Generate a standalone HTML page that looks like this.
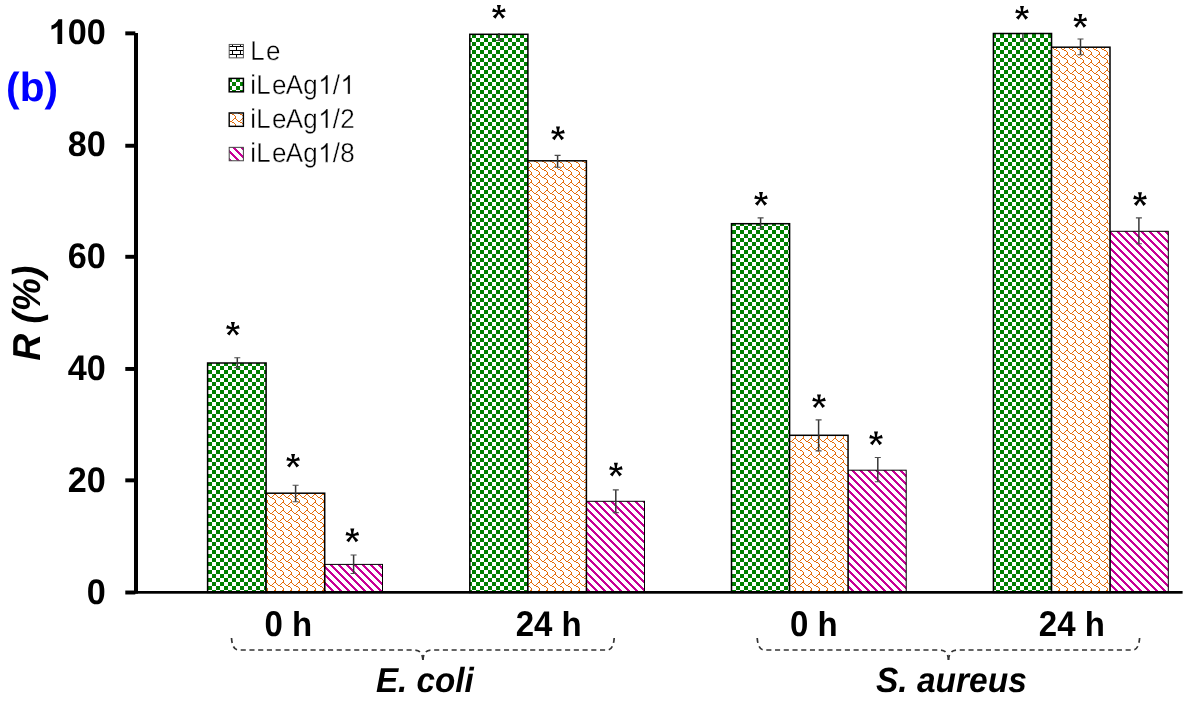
<!DOCTYPE html>
<html><head><meta charset="utf-8"><title>chart</title>
<style>
html,body{margin:0;padding:0;background:#fff;}
body{width:1187px;height:702px;overflow:hidden;}
svg{display:block;font-family:"Liberation Sans",sans-serif;will-change:transform;text-rendering:geometricPrecision;}
.b{font-weight:bold;}
.bi{font-weight:bold;font-style:italic;}
</style></head><body>
<svg width="1187" height="702" viewBox="0 0 1187 702">
<defs>
<pattern id="pc" patternUnits="userSpaceOnUse" x="4" y="6" width="8" height="8"><rect width="8" height="8" fill="#fff"/><g fill="#008000" shape-rendering="crispEdges"><rect x="0" y="0" width="4" height="1"/><rect x="0" y="1" width="4" height="1"/><rect x="0" y="2" width="4" height="1"/><rect x="0" y="3" width="4" height="1"/><rect x="4" y="4" width="4" height="1"/><rect x="4" y="5" width="4" height="1"/><rect x="4" y="6" width="4" height="1"/><rect x="4" y="7" width="4" height="1"/></g></pattern>
<pattern id="ps" patternUnits="userSpaceOnUse" x="4" y="6" width="8" height="8"><rect width="8" height="8" fill="#fff"/><g fill="#e46c0a" shape-rendering="crispEdges"><rect x="6" y="0" width="2" height="1"/><rect x="0" y="1" width="1" height="1"/><rect x="5" y="1" width="1" height="1"/><rect x="1" y="2" width="1" height="1"/><rect x="4" y="2" width="1" height="1"/><rect x="2" y="3" width="2" height="1"/><rect x="4" y="4" width="2" height="1"/><rect x="6" y="5" width="1" height="1"/><rect x="7" y="6" width="1" height="1"/><rect x="7" y="7" width="1" height="1"/></g></pattern>
<pattern id="pd" patternUnits="userSpaceOnUse" x="4" y="6" width="8" height="8"><rect width="8" height="8" fill="#fff"/><g fill="#c80096" shape-rendering="crispEdges"><rect x="0" y="0" width="2" height="1"/><rect x="7" y="0" width="1" height="1"/><rect x="0" y="1" width="3" height="1"/><rect x="1" y="2" width="3" height="1"/><rect x="2" y="3" width="3" height="1"/><rect x="3" y="4" width="3" height="1"/><rect x="4" y="5" width="3" height="1"/><rect x="5" y="6" width="3" height="1"/><rect x="0" y="7" width="1" height="1"/><rect x="6" y="7" width="2" height="1"/></g></pattern>
<pattern id="pb" patternUnits="userSpaceOnUse" x="4" y="6" width="8" height="8"><rect width="8" height="8" fill="#fff"/><g fill="#000" shape-rendering="crispEdges"><rect x="0" y="0" width="8" height="1"/><rect x="0" y="1" width="1" height="1"/><rect x="0" y="2" width="1" height="1"/><rect x="0" y="3" width="1" height="1"/><rect x="0" y="4" width="8" height="1"/><rect x="4" y="5" width="1" height="1"/><rect x="4" y="6" width="1" height="1"/><rect x="4" y="7" width="1" height="1"/></g></pattern>
</defs>
<rect width="1187" height="702" fill="#fff"/>
<rect x="324.70" y="564.4" width="57.80" height="28.0" fill="url(#pd)" stroke="#000" stroke-width="1.0"/>
<rect x="586.40" y="501.3" width="58.10" height="91.1" fill="url(#pd)" stroke="#000" stroke-width="1.0"/>
<rect x="848.05" y="470.2" width="58.15" height="122.2" fill="url(#pd)" stroke="#000" stroke-width="1.0"/>
<rect x="1110.00" y="231.3" width="58.30" height="361.1" fill="url(#pd)" stroke="#000" stroke-width="1.0"/>
<rect x="207.60" y="363.0" width="58.50" height="229.4" fill="url(#pc)" stroke="#000" stroke-width="1.5"/>
<rect x="266.10" y="493.2" width="58.60" height="99.2" fill="url(#ps)" stroke="#000" stroke-width="1.5"/>
<rect x="469.80" y="34.3" width="58.10" height="558.1" fill="url(#pc)" stroke="#000" stroke-width="1.5"/>
<rect x="527.90" y="160.8" width="58.50" height="431.6" fill="url(#ps)" stroke="#000" stroke-width="1.5"/>
<rect x="731.50" y="223.7" width="58.10" height="368.7" fill="url(#pc)" stroke="#000" stroke-width="1.5"/>
<rect x="789.60" y="435.3" width="58.45" height="157.1" fill="url(#ps)" stroke="#000" stroke-width="1.5"/>
<rect x="993.40" y="33.5" width="58.15" height="558.9" fill="url(#pc)" stroke="#000" stroke-width="1.5"/>
<rect x="1051.55" y="47.2" width="58.45" height="545.2" fill="url(#ps)" stroke="#000" stroke-width="1.5"/>
<path d="M237.3 357.7V367.6" stroke="#363636" stroke-width="1.5" fill="none"/>
<path d="M234.3 367.6H240.3M234.3 357.7H240.3" stroke="#4d4d4d" stroke-width="1.1" fill="none"/>
<path d="M295.6 485.3V501.7" stroke="#363636" stroke-width="1.5" fill="none"/>
<path d="M292.6 501.7H298.6M292.6 485.3H298.6" stroke="#4d4d4d" stroke-width="1.1" fill="none"/>
<path d="M353.6 555.0V573.5" stroke="#363636" stroke-width="1.5" fill="none"/>
<path d="M350.6 573.5H356.6M350.6 555.0H356.6" stroke="#4d4d4d" stroke-width="1.1" fill="none"/>
<path d="M499.0 33.0V40.5" stroke="#363636" stroke-width="1.5" fill="none"/>
<path d="M496.0 40.5H502.0" stroke="#4d4d4d" stroke-width="1.1" fill="none"/>
<path d="M557.6 155.4V167.3" stroke="#363636" stroke-width="1.5" fill="none"/>
<path d="M554.6 167.3H560.6M554.6 155.4H560.6" stroke="#4d4d4d" stroke-width="1.1" fill="none"/>
<path d="M615.8 489.9V512.6" stroke="#363636" stroke-width="1.5" fill="none"/>
<path d="M612.8 512.6H618.8M612.8 489.9H618.8" stroke="#4d4d4d" stroke-width="1.1" fill="none"/>
<path d="M760.6 217.9V228.3" stroke="#363636" stroke-width="1.5" fill="none"/>
<path d="M757.6 228.3H763.6M757.6 217.9H763.6" stroke="#4d4d4d" stroke-width="1.1" fill="none"/>
<path d="M818.6 419.9V450.9" stroke="#363636" stroke-width="1.5" fill="none"/>
<path d="M815.6 450.9H821.6M815.6 419.9H821.6" stroke="#4d4d4d" stroke-width="1.1" fill="none"/>
<path d="M877.8 457.5V481.8" stroke="#363636" stroke-width="1.5" fill="none"/>
<path d="M874.8 481.8H880.8M874.8 457.5H880.8" stroke="#4d4d4d" stroke-width="1.1" fill="none"/>
<path d="M1022.9 33.5V41.2" stroke="#363636" stroke-width="1.5" fill="none"/>
<path d="M1019.9 41.2H1025.9" stroke="#4d4d4d" stroke-width="1.1" fill="none"/>
<path d="M1080.5 39.0V54.8" stroke="#363636" stroke-width="1.5" fill="none"/>
<path d="M1077.5 54.8H1083.5M1077.5 39.0H1083.5" stroke="#4d4d4d" stroke-width="1.1" fill="none"/>
<path d="M1138.9 217.9V243.8" stroke="#363636" stroke-width="1.5" fill="none"/>
<path d="M1135.9 243.8H1141.9M1135.9 217.9H1141.9" stroke="#4d4d4d" stroke-width="1.1" fill="none"/>
<g fill="#000">
<rect x="134" y="33" width="4" height="560.6"/>
<rect x="134" y="591" width="1048.6" height="2.7"/>
<rect x="125.3" y="31.38" width="10" height="3.94"/>
<rect x="125.3" y="143.78" width="10" height="3.94"/>
<rect x="125.3" y="254.83" width="10" height="3.94"/>
<rect x="125.3" y="366.98" width="10" height="3.94"/>
<rect x="125.3" y="478.38" width="10" height="3.94"/>
<rect x="125.3" y="590.53" width="10" height="3.94"/>
</g>
<text class="b" transform="translate(105.80 43.65) scale(1 1.04)" font-size="34.2" text-anchor="end">00</text>
<path transform="translate(48.74 43.95) scale(0.01670 -0.01670)" d="M806 0H525V1059Q371 915 162 846V1101Q272 1137 401 1237.5T578 1472H806Z"/>
<text class="b" transform="translate(105.80 155.65) scale(1 1.04)" font-size="34.2" text-anchor="end">80</text>
<text class="b" transform="translate(105.80 267.65) scale(1 1.04)" font-size="34.2" text-anchor="end">60</text>
<text class="b" transform="translate(105.80 379.65) scale(1 1.04)" font-size="34.2" text-anchor="end">40</text>
<text class="b" transform="translate(105.80 491.65) scale(1 1.04)" font-size="34.2" text-anchor="end">20</text>
<text class="b" transform="translate(105.80 603.65) scale(1 1.04)" font-size="34.2" text-anchor="end">0</text>
<text class="bi" font-size="37.3" text-anchor="middle" transform="translate(40.2 313.2) rotate(-90) scale(1 1.045)">R (%)</text>
<text class="b" font-size="40.7" x="6.1" y="100.9" fill="#0000ff">(b)</text>
<rect x="229.2" y="44.45" width="14.2" height="13.4" fill="url(#pb)" stroke="#555" stroke-width="1.0"/>
<text transform="translate(0 60.05) scale(1 1.045)" font-size="26" stroke="#fff" stroke-width="0.35" x="250.20 265.94">Le</text>
<rect x="229.2" y="78.40" width="14.2" height="13.4" fill="url(#pc)" stroke="#000" stroke-width="1.5"/>
<path transform="translate(318.10 94.10) scale(0.01270 -0.01295)" d="M763 0H583V1147Q518 1085 412.5 1023T223 930V1104Q373 1174.5 485 1275T644 1472H763Z" stroke="#fff" stroke-width="0.35" vector-effect="non-scaling-stroke"/>
<path transform="translate(340.35 94.10) scale(0.01270 -0.01295)" d="M763 0H583V1147Q518 1085 412.5 1023T223 930V1104Q373 1174.5 485 1275T644 1472H763Z" stroke="#fff" stroke-width="0.35" vector-effect="non-scaling-stroke"/>
<text transform="translate(0 94.10) scale(1 1.045)" font-size="26" stroke="#fff" stroke-width="0.35" x="250.20 256.26 272.00 285.74 303.36 318.10 332.84 340.35">iLeAg / </text>
<rect x="229.2" y="112.95" width="14.2" height="13.4" fill="url(#ps)" stroke="#000" stroke-width="1.4"/>
<path transform="translate(318.10 127.95) scale(0.01270 -0.01295)" d="M763 0H583V1147Q518 1085 412.5 1023T223 930V1104Q373 1174.5 485 1275T644 1472H763Z" stroke="#fff" stroke-width="0.35" vector-effect="non-scaling-stroke"/>
<text transform="translate(0 127.95) scale(1 1.045)" font-size="26" stroke="#fff" stroke-width="0.35" x="250.20 256.26 272.00 285.74 303.36 318.10 332.84 340.35">iLeAg /2</text>
<rect x="229.2" y="147.35" width="14.2" height="13.4" fill="url(#pd)" stroke="#444" stroke-width="1.0"/>
<path transform="translate(318.10 162.15) scale(0.01270 -0.01295)" d="M763 0H583V1147Q518 1085 412.5 1023T223 930V1104Q373 1174.5 485 1275T644 1472H763Z" stroke="#fff" stroke-width="0.35" vector-effect="non-scaling-stroke"/>
<text transform="translate(0 162.15) scale(1 1.045)" font-size="26" stroke="#fff" stroke-width="0.35" x="250.20 256.26 272.00 285.74 303.36 318.10 332.84 340.35">iLeAg /8</text>
<path transform="translate(232.9 328.8)" d="M1.00 0.80L1.20 -3.60L2.00 -6.90L-2.00 -6.90L-1.20 -3.60L-1.00 0.80ZM-0.46 1.19L3.79 0.06L6.80 -0.21L5.69 -3.73L3.07 -2.23L-1.06 -0.71ZM-1.28 0.02L1.37 3.54L3.44 6.82L6.06 4.66L3.22 2.01L0.26 -1.25ZM-0.26 -1.25L-3.22 2.01L-6.06 4.66L-3.44 6.82L-1.37 3.54L1.28 0.02ZM1.06 -0.71L-3.07 -2.23L-5.69 -3.73L-6.80 -0.21L-3.79 0.06L0.46 1.19Z"/>
<path transform="translate(293.1 460.8)" d="M1.00 0.80L1.20 -3.60L2.00 -6.90L-2.00 -6.90L-1.20 -3.60L-1.00 0.80ZM-0.46 1.19L3.79 0.06L6.80 -0.21L5.69 -3.73L3.07 -2.23L-1.06 -0.71ZM-1.28 0.02L1.37 3.54L3.44 6.82L6.06 4.66L3.22 2.01L0.26 -1.25ZM-0.26 -1.25L-3.22 2.01L-6.06 4.66L-3.44 6.82L-1.37 3.54L1.28 0.02ZM1.06 -0.71L-3.07 -2.23L-5.69 -3.73L-6.80 -0.21L-3.79 0.06L0.46 1.19Z"/>
<path transform="translate(352.3 535.5)" d="M1.00 0.80L1.20 -3.60L2.00 -6.90L-2.00 -6.90L-1.20 -3.60L-1.00 0.80ZM-0.46 1.19L3.79 0.06L6.80 -0.21L5.69 -3.73L3.07 -2.23L-1.06 -0.71ZM-1.28 0.02L1.37 3.54L3.44 6.82L6.06 4.66L3.22 2.01L0.26 -1.25ZM-0.26 -1.25L-3.22 2.01L-6.06 4.66L-3.44 6.82L-1.37 3.54L1.28 0.02ZM1.06 -0.71L-3.07 -2.23L-5.69 -3.73L-6.80 -0.21L-3.79 0.06L0.46 1.19Z"/>
<path transform="translate(498.9 11.9)" d="M1.00 0.80L1.20 -3.60L2.00 -6.90L-2.00 -6.90L-1.20 -3.60L-1.00 0.80ZM-0.46 1.19L3.79 0.06L6.80 -0.21L5.69 -3.73L3.07 -2.23L-1.06 -0.71ZM-1.28 0.02L1.37 3.54L3.44 6.82L6.06 4.66L3.22 2.01L0.26 -1.25ZM-0.26 -1.25L-3.22 2.01L-6.06 4.66L-3.44 6.82L-1.37 3.54L1.28 0.02ZM1.06 -0.71L-3.07 -2.23L-5.69 -3.73L-6.80 -0.21L-3.79 0.06L0.46 1.19Z"/>
<path transform="translate(558.0 133.4)" d="M1.00 0.80L1.20 -3.60L2.00 -6.90L-2.00 -6.90L-1.20 -3.60L-1.00 0.80ZM-0.46 1.19L3.79 0.06L6.80 -0.21L5.69 -3.73L3.07 -2.23L-1.06 -0.71ZM-1.28 0.02L1.37 3.54L3.44 6.82L6.06 4.66L3.22 2.01L0.26 -1.25ZM-0.26 -1.25L-3.22 2.01L-6.06 4.66L-3.44 6.82L-1.37 3.54L1.28 0.02ZM1.06 -0.71L-3.07 -2.23L-5.69 -3.73L-6.80 -0.21L-3.79 0.06L0.46 1.19Z"/>
<path transform="translate(615.9 469.7)" d="M1.00 0.80L1.20 -3.60L2.00 -6.90L-2.00 -6.90L-1.20 -3.60L-1.00 0.80ZM-0.46 1.19L3.79 0.06L6.80 -0.21L5.69 -3.73L3.07 -2.23L-1.06 -0.71ZM-1.28 0.02L1.37 3.54L3.44 6.82L6.06 4.66L3.22 2.01L0.26 -1.25ZM-0.26 -1.25L-3.22 2.01L-6.06 4.66L-3.44 6.82L-1.37 3.54L1.28 0.02ZM1.06 -0.71L-3.07 -2.23L-5.69 -3.73L-6.80 -0.21L-3.79 0.06L0.46 1.19Z"/>
<path transform="translate(761.0 198.9)" d="M1.00 0.80L1.20 -3.60L2.00 -6.90L-2.00 -6.90L-1.20 -3.60L-1.00 0.80ZM-0.46 1.19L3.79 0.06L6.80 -0.21L5.69 -3.73L3.07 -2.23L-1.06 -0.71ZM-1.28 0.02L1.37 3.54L3.44 6.82L6.06 4.66L3.22 2.01L0.26 -1.25ZM-0.26 -1.25L-3.22 2.01L-6.06 4.66L-3.44 6.82L-1.37 3.54L1.28 0.02ZM1.06 -0.71L-3.07 -2.23L-5.69 -3.73L-6.80 -0.21L-3.79 0.06L0.46 1.19Z"/>
<path transform="translate(819.0 401.3)" d="M1.00 0.80L1.20 -3.60L2.00 -6.90L-2.00 -6.90L-1.20 -3.60L-1.00 0.80ZM-0.46 1.19L3.79 0.06L6.80 -0.21L5.69 -3.73L3.07 -2.23L-1.06 -0.71ZM-1.28 0.02L1.37 3.54L3.44 6.82L6.06 4.66L3.22 2.01L0.26 -1.25ZM-0.26 -1.25L-3.22 2.01L-6.06 4.66L-3.44 6.82L-1.37 3.54L1.28 0.02ZM1.06 -0.71L-3.07 -2.23L-5.69 -3.73L-6.80 -0.21L-3.79 0.06L0.46 1.19Z"/>
<path transform="translate(876.0 438.4)" d="M1.00 0.80L1.20 -3.60L2.00 -6.90L-2.00 -6.90L-1.20 -3.60L-1.00 0.80ZM-0.46 1.19L3.79 0.06L6.80 -0.21L5.69 -3.73L3.07 -2.23L-1.06 -0.71ZM-1.28 0.02L1.37 3.54L3.44 6.82L6.06 4.66L3.22 2.01L0.26 -1.25ZM-0.26 -1.25L-3.22 2.01L-6.06 4.66L-3.44 6.82L-1.37 3.54L1.28 0.02ZM1.06 -0.71L-3.07 -2.23L-5.69 -3.73L-6.80 -0.21L-3.79 0.06L0.46 1.19Z"/>
<path transform="translate(1022.0 12.9)" d="M1.00 0.80L1.20 -3.60L2.00 -6.90L-2.00 -6.90L-1.20 -3.60L-1.00 0.80ZM-0.46 1.19L3.79 0.06L6.80 -0.21L5.69 -3.73L3.07 -2.23L-1.06 -0.71ZM-1.28 0.02L1.37 3.54L3.44 6.82L6.06 4.66L3.22 2.01L0.26 -1.25ZM-0.26 -1.25L-3.22 2.01L-6.06 4.66L-3.44 6.82L-1.37 3.54L1.28 0.02ZM1.06 -0.71L-3.07 -2.23L-5.69 -3.73L-6.80 -0.21L-3.79 0.06L0.46 1.19Z"/>
<path transform="translate(1080.3 20.9)" d="M1.00 0.80L1.20 -3.60L2.00 -6.90L-2.00 -6.90L-1.20 -3.60L-1.00 0.80ZM-0.46 1.19L3.79 0.06L6.80 -0.21L5.69 -3.73L3.07 -2.23L-1.06 -0.71ZM-1.28 0.02L1.37 3.54L3.44 6.82L6.06 4.66L3.22 2.01L0.26 -1.25ZM-0.26 -1.25L-3.22 2.01L-6.06 4.66L-3.44 6.82L-1.37 3.54L1.28 0.02ZM1.06 -0.71L-3.07 -2.23L-5.69 -3.73L-6.80 -0.21L-3.79 0.06L0.46 1.19Z"/>
<path transform="translate(1140.0 199.1)" d="M1.00 0.80L1.20 -3.60L2.00 -6.90L-2.00 -6.90L-1.20 -3.60L-1.00 0.80ZM-0.46 1.19L3.79 0.06L6.80 -0.21L5.69 -3.73L3.07 -2.23L-1.06 -0.71ZM-1.28 0.02L1.37 3.54L3.44 6.82L6.06 4.66L3.22 2.01L0.26 -1.25ZM-0.26 -1.25L-3.22 2.01L-6.06 4.66L-3.44 6.82L-1.37 3.54L1.28 0.02ZM1.06 -0.71L-3.07 -2.23L-5.69 -3.73L-6.80 -0.21L-3.79 0.06L0.46 1.19Z"/>
<text class="b" transform="translate(264.58 635.60) scale(1 1.085)" font-size="33" text-anchor="start">0</text>
<text class="b" transform="translate(292.10 635.80) scale(1 1.045)" font-size="33" text-anchor="start">h</text>
<text class="b" transform="translate(515.75 635.60) scale(1 1.085)" font-size="33" text-anchor="start">24</text>
<text class="b" transform="translate(561.62 635.80) scale(1 1.045)" font-size="33" text-anchor="start">h</text>
<text class="b" transform="translate(789.88 635.60) scale(1 1.085)" font-size="33" text-anchor="start">0</text>
<text class="b" transform="translate(817.40 635.80) scale(1 1.045)" font-size="33" text-anchor="start">h</text>
<text class="b" transform="translate(1038.85 635.60) scale(1 1.085)" font-size="33" text-anchor="start">24</text>
<text class="b" transform="translate(1084.72 635.80) scale(1 1.045)" font-size="33" text-anchor="start">h</text>
<text class="bi" transform="translate(375.90 691.80) scale(1 1.045)" font-size="33.2" text-anchor="start">E. coli</text>
<text class="bi" transform="translate(876.00 691.80) scale(1 1.045)" font-size="33.5" text-anchor="start">S. aureus</text>
<path d="M422.9 660.0Q422.3 650.0 414.4 650.0H238.5Q232.4 650.0 231.5 638.0" fill="none" stroke="#333" stroke-width="1.7" stroke-dasharray="5.1 3.63"/><path d="M422.9 660.0Q423.5 650.0 431.4 650.0H607.2Q613.3 650.0 614.2 638.0" fill="none" stroke="#333" stroke-width="1.7" stroke-dasharray="5.1 3.63"/>
<path d="M948.5 660.0Q947.9 650.0 940.0 650.0H764.2Q758.1 650.0 757.2 638.0" fill="none" stroke="#333" stroke-width="1.7" stroke-dasharray="5.1 3.63"/><path d="M948.5 660.0Q949.1 650.0 957.0 650.0H1132.6Q1138.7 650.0 1139.6 638.0" fill="none" stroke="#333" stroke-width="1.7" stroke-dasharray="5.1 3.63"/>
</svg></body></html>
